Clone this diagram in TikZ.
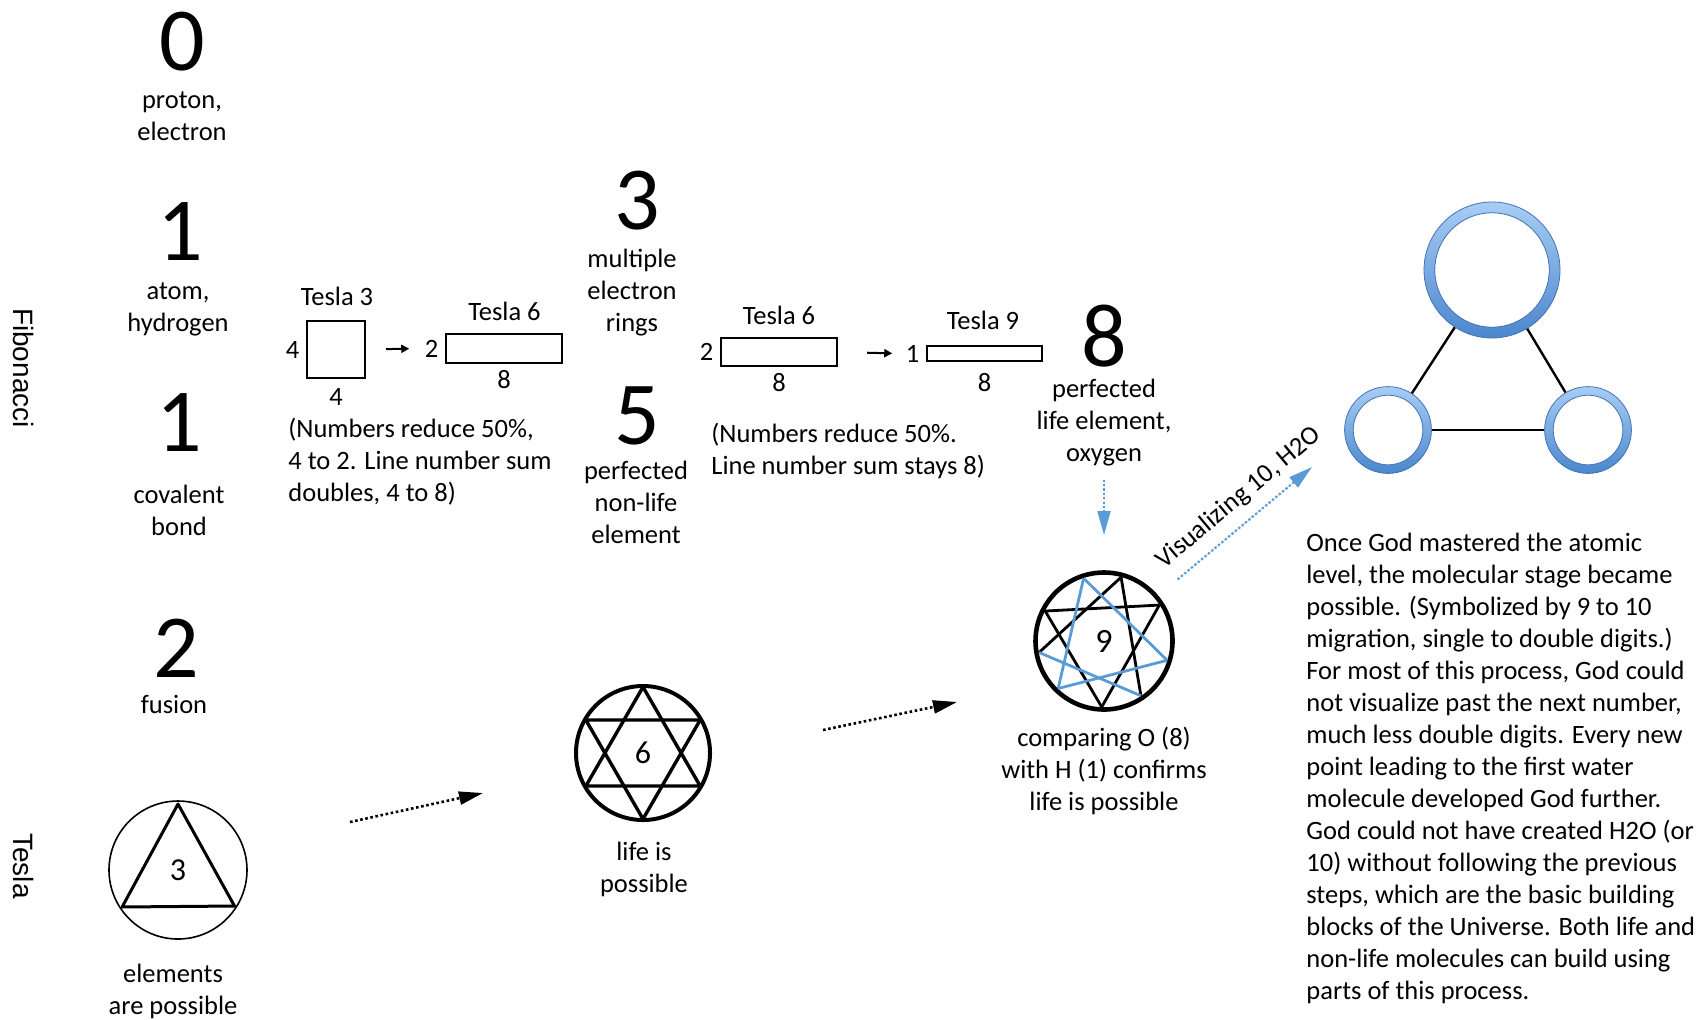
\documentclass[tikz,border=0pt]{standalone}
\usepackage{fontspec}
\setmainfont{Carlito}
\newfontfamily\sidefont{Liberation Sans}
\usetikzlibrary{arrows.meta, positioning, calc}
\definecolor{starblue}{RGB}{91,155,213}
\definecolor{ringtop}{RGB}{168,205,246}
\definecolor{ringbottom}{RGB}{76,134,205}
\definecolor{ringedge}{RGB}{66,116,180}

\begin{document}
\begin{tikzpicture}[x=0.5pt, y=-0.5pt,
  caption/.style={font=\fontsize{13.25}{16}\selectfont, align=center},
  para/.style={font=\fontsize{13.25}{16}\selectfont, align=left, anchor=west, inner sep=0pt},
  bignum/.style={font=\fontsize{45}{45}\selectfont, inner sep=0pt},
  sidelabel/.style={font=\sidefont\fontsize{14}{16}\selectfont, rotate=-90},
  teslabox/.style={draw, line width=0.6pt, inner sep=0pt},
  boxnum/.style={font=\fontsize{13.25}{16}\selectfont},
  emblem/.style={circle, draw, inner sep=0pt, font=\fontsize{16}{16}\selectfont},
  atom/.style={circle, inner sep=0pt, outer sep=0pt},
  tarrow/.style={line width=1pt, -{Triangle[length=4pt,width=4pt]}},
  dotarrow/.style={line width=1.3pt, dash pattern=on 1.3pt off 1.3pt, -{Triangle[length=12pt,width=6.5pt]}},
  bluearrow/.style={dotarrow, draw=starblue, fill=starblue, line width=1.1pt, dash pattern=on 1.1pt off 1.1pt}
]
\useasboundingbox (0,0) rectangle (1700,1019);

\node[sidelabel] (fib) at (24,368) {Fibonacci};
\node[sidelabel] (tes) at (24,866) {Tesla};

\node[bignum] (n0) at (182,42) {0};
\node[caption] (c0) at (182,116) {proton,\\electron};
\node[bignum] (n1a) at (180,232) {1};
\node[caption] (c1a) at (178,309) {atom,\\hydrogen};
\node[bignum] (n1b) at (179,423) {1};
\node[caption] (c1b) at (179,510) {covalent\\bond};
\node[bignum] (n2) at (176,648) {2};
\node[caption] (c2) at (174,704) {fusion};
\node[bignum] (n3) at (637,201) {3};
\node[caption] (c3) at (632,293) {multiple\\electron\\rings};
\node[bignum] (n5) at (637,416) {5};
\node[caption] (c5) at (636,502) {perfected\\non-life\\element};
\node[bignum] (n8) at (1104,336) {8};
\node[caption] (c8) at (1104,423) {perfected\\life element,\\oxygen};

\node[teslabox, minimum width=29pt, minimum height=28.5pt] (t3box) at (336,349.5) {};
\node[teslabox, minimum width=58pt, minimum height=14.5pt] (t6box) at (504,348.5) {};
\node[teslabox, minimum width=58pt, minimum height=14pt] (t6bbox) at (779,352) {};
\node[teslabox, minimum width=57.5pt, minimum height=7.5pt] (t9box) at (984.5,353.5) {};
\node[caption] (t3lbl) at (337,296) {Tesla 3};
\node[caption] (t6lbl) at (504.5,311) {Tesla 6};
\node[caption] (t6blbl) at (779,315) {Tesla 6};
\node[caption] (t9lbl) at (983,320) {Tesla 9};
\node[boxnum, left=0pt of t3box] (t3side) {4};
\node[boxnum, below=1.25pt of t3box] (t3base) {4};
\node[boxnum, left=0pt of t6box] (t6side) {2};
\node[boxnum, below=0pt of t6box] (t6base) {8};
\node[boxnum, left=0pt of t6bbox] (t6bside) {2};
\node[boxnum, below=0pt of t6bbox] (t6bbase) {8};
\node[boxnum, left=0pt of t9box] (t9side) {1};
\node[boxnum, below=2.2pt of t9box] (t9base) {8};
\draw[tarrow, shorten <=10.2pt, shorten >=4.3pt] (t3box.east) -- (t6side.west);
\draw[tarrow, shorten <=14.7pt, shorten >=3.3pt] (t6bbox.east) -- (t9side.west);

\node[para] (note1) at (288,462) {(Numbers reduce 50\%,\\4 to 2. Line number sum\\doubles, 4 to 8)};
\node[para] (note2) at (711,451) {(Numbers reduce 50\%.\\Line number sum stays 8)};

\node[emblem, line width=0.8pt, minimum size=69pt] (tri) at (178,870) {3};
\draw[line width=1.5pt, line join=round] ($(tri)+(90:33pt)$) -- ($(tri)+(213.5:33.5pt)$) -- ($(tri)+(327.5:33.5pt)$) -- cycle;
\node[caption] (ctri) at (173,991) {elements\\are possible};

\node[emblem, line width=2pt, minimum size=67pt] (hex) at (643,753) {6};
\foreach \a in {90,270}
  \draw[line width=1.7pt, line join=round] ($(hex)+(\a:33pt)$) -- ($(hex)+({\a+120}:33pt)$) -- ($(hex)+({\a+240}:33pt)$) -- cycle;
\node[caption] (chex) at (644,869) {life is\\possible};

\node[emblem, line width=2.3pt, minimum size=68.5pt, font=\fontsize{17}{17}\selectfont] (ennea) at (1104,641) {9};
\foreach \p/\q/\c in {33/153/black, 153/268/black, 268/33/black, 75/190/black, 75/304/black,
                      190/304/starblue, 108/226/starblue, 226/343/starblue, 343/108/starblue}
  \draw[line width=1.4pt, color=\c] ($(ennea)+(\p:33pt)$) -- ($(ennea)+(\q:33pt)$);
\node[caption] (cennea) at (1104,771) {comparing O (8)\\with H (1) confirms\\life is possible};

\coordinate (d1s) at (350,822);
\coordinate (d1e) at (483,793);
\coordinate (d2s) at (823,730);
\coordinate (d2e) at (957,702);
\draw[dotarrow] (d1s) -- (d1e);
\draw[dotarrow] (d2s) -- (d2e);

\coordinate (h2otip) at (1312,467);
\draw[bluearrow, shorten <=3pt, shorten >=17.6pt] (c8) -- (ennea);
\draw[bluearrow, shorten <=12.6pt] (ennea) -- (h2otip)
  node[caption, pos=0.62, above=2pt, sloped] {Visualizing 10, H2O};

\node[atom, minimum size=68pt] (oxy) at (1492,270) {};
\node[atom, minimum size=43.4pt] (hleft) at (1388,430) {};
\node[atom, minimum size=43.4pt] (hright) at (1588,430) {};
\draw[line width=1.2pt] (oxy) -- (hleft);
\draw[line width=1.2pt] (oxy) -- (hright);
\draw[line width=1.2pt] (hleft) -- (hright);
\foreach \n/\ro/\ri in {oxy/34pt/28.6pt, hleft/21.7pt/17.4pt, hright/21.7pt/17.4pt} {
  \shade[top color=ringtop, bottom color=ringbottom, even odd rule] (\n) circle (\ro) (\n) circle (\ri);
  \draw[ringedge, line width=0.4pt] (\n) circle (\ro) (\n) circle (\ri);
}

\node[para] (story) at (1306,768) {Once God mastered the atomic\\level, the molecular stage became\\possible. (Symbolized by 9 to 10\\migration, single to double digits.)\\For most of this process, God could\\not visualize past the next number,\\much less double digits. Every new\\point leading to the first water\\molecule developed God further.\\God could not have created H2O (or\\10) without following the previous\\steps, which are the basic building\\blocks of the Universe. Both life and\\non-life molecules can build using\\parts of this process.};
\end{tikzpicture}
\end{document}
